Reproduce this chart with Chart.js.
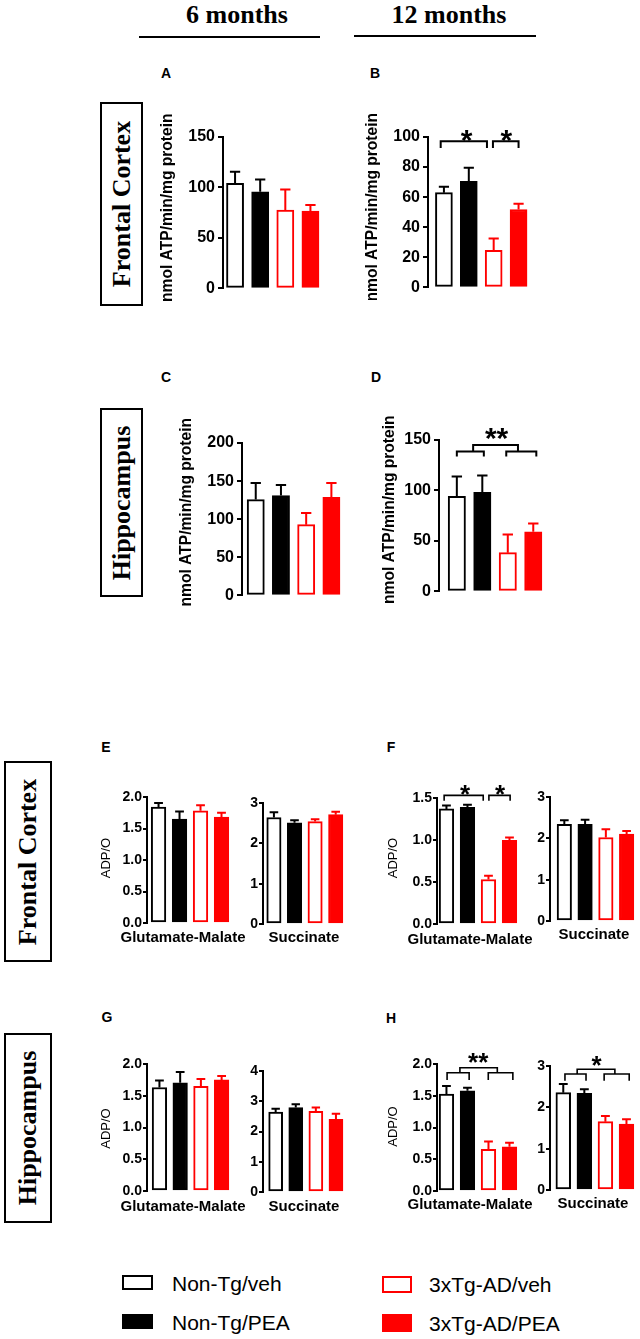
<!DOCTYPE html>
<html lang="en">
  <head>
    <meta charset="UTF-8" />
    <meta name="viewport" content="width=device-width, initial-scale=1.0" />
    <title>ATP synthesis and ADP/O ratio</title>
    <script src="https://cdn.jsdelivr.net/npm/chart.js"></script>
    <style>
      body {
        margin: 0;
        background: #fff;
        position: relative;
        width: 640px;
        height: 1339px;
        overflow: hidden;
        font-family: "Liberation Sans", Arial, sans-serif;
        color: #000;
      }
      .t {
        position: absolute;
        line-height: 1;
        white-space: nowrap;
        transform: translate(-50%, -50%);
      }
      .age {
        font-family: "Liberation Serif", "Times New Roman", serif;
        font-weight: bold;
        font-size: 26px;
      }
      .rule {
        position: absolute;
        height: 2px;
        background: #000;
      }
      .letter {
        font-weight: bold;
        font-size: 14px;
      }
      .region {
        position: absolute;
        border: 2px solid #000;
        box-sizing: border-box;
      }
      .region span {
        position: absolute;
        left: 50%;
        top: 50%;
        transform: translate(-50%, -50%) rotate(-90deg);
        font-family: "Liberation Serif", "Times New Roman", serif;
        font-weight: bold;
        font-size: 26px;
        line-height: 1;
        white-space: nowrap;
      }
      canvas {
        position: absolute;
      }
      .swatch {
        position: absolute;
        box-sizing: border-box;
      }
      .lg {
        position: absolute;
        font-size: 21px;
        line-height: 1;
        white-space: nowrap;
        transform: translateY(-50%);
      }
    </style>
  </head>
  <body>
    <div class="t age" style="left: 237px; top: 15px">6 months</div>
    <div class="rule" style="left: 139px; top: 36px; width: 181px"></div>
    <div class="t age" style="left: 449px; top: 15px">12 months</div>
    <div class="rule" style="left: 354px; top: 35px; width: 182px"></div>

    <div class="region" style="left: 100px; top: 102px; width: 43px; height: 204px"><span>Frontal Cortex</span></div>
    <div class="region" style="left: 100px; top: 408px; width: 43px; height: 189px"><span>Hippocampus</span></div>
    <div class="region" style="left: 4px; top: 761px; width: 48px; height: 201px"><span>Frontal Cortex</span></div>
    <div class="region" style="left: 4px; top: 1033px; width: 48px; height: 190px"><span>Hippocampus</span></div>

    <div class="t letter" style="left: 166px; top: 73px">A</div>
    <div class="t letter" style="left: 375px; top: 73px">B</div>
    <div class="t letter" style="left: 166px; top: 377px">C</div>
    <div class="t letter" style="left: 376px; top: 377px">D</div>
    <div class="t letter" style="left: 106px; top: 747px">E</div>
    <div class="t letter" style="left: 391px; top: 747px">F</div>
    <div class="t letter" style="left: 107px; top: 1017px">G</div>
    <div class="t letter" style="left: 391px; top: 1018px">H</div>

    <script>
      const groups = ["Non-Tg/veh", "Non-Tg/PEA", "3xTg-AD/veh", "3xTg-AD/PEA"];
      const fills = ["#ffffff", "#000000", "#ffffff", "#ff0000"];
      const edges = ["#000000", "#000000", "#ff0000", "#ff0000"];

      // ATP synthesis, nmol ATP/min/mg protein (mean and SEM)
      const atpCortex6 = [104, 95.7, 77.7, 76.7];
      const atpCortex6Sem = [11.5, 12.3, 20.3, 5.9];
      const atpCortex12 = [63, 70.6, 24.7, 51.8];
      const atpCortex12Sem = [3.9, 8.9, 7.8, 3.8];
      const atpHippo6 = [125.7, 131, 92.8, 128.7];
      const atpHippo6Sem = [21.9, 14, 15.4, 18.9];
      const atpHippo12 = [94.2, 98.1, 38.4, 59.1];
      const atpHippo12Sem = [19.7, 16.8, 18, 8.2];

      // ADP/O ratio, glutamate-malate and succinate (mean and SEM)
      const adpoCortex6GM = [1.84, 1.65, 1.78, 1.68];
      const adpoCortex6GMSem = [0.065, 0.12, 0.09, 0.07];
      const adpoCortex6Suc = [2.64, 2.51, 2.54, 2.71];
      const adpoCortex6SucSem = [0.13, 0.06, 0.06, 0.07];
      const adpoCortex12GM = [1.37, 1.39, 0.53, 0.995];
      const adpoCortex12GMSem = [0.04, 0.03, 0.045, 0.035];
      const adpoCortex12Suc = [2.34, 2.34, 2.02, 2.1];
      const adpoCortex12SucSem = [0.1, 0.11, 0.2, 0.08];
      const adpoHippo6GM = [1.63, 1.705, 1.65, 1.75];
      const adpoHippo6GMSem = [0.11, 0.17, 0.115, 0.06];
      const adpoHippo6Suc = [2.645, 2.79, 2.67, 2.4];
      const adpoHippo6SucSem = [0.11, 0.11, 0.12, 0.19];
      const adpoHippo12GM = [1.527, 1.579, 0.658, 0.695];
      const adpoHippo12GMSem = [0.126, 0.047, 0.122, 0.063];
      const adpoHippo12Suc = [2.355, 2.34, 1.653, 1.597];
      const adpoHippo12SucSem = [0.21, 0.096, 0.137, 0.113];

      // y tick labels
      const ticks150 = ["0", "50", "100", "150"];
      const ticks100 = ["0", "20", "40", "60", "80", "100"];
      const ticks200 = ["0", "50", "100", "150", "200"];
      const ticksRatio2 = ["0.0", "0.5", "1.0", "1.5", "2.0"];
      const ticksRatio15 = ["0.0", "0.5", "1.0", "1.5"];
      const ticksSuc3 = ["0", "1", "2", "3"];
      const ticksSuc4 = ["0", "1", "2", "3", "4"];

      // significance brackets (x in bar index, y in axis units)
      const sigB = [
        { from: -0.13, to: 1.73, y: 97.1, legTo: 92.7 },
        { from: 1.97, to: 3.0, y: 97.1, legTo: 92.7 },
      ];
      const starsB = [
        { text: "*", x: 0.91, y: 102.8 },
        { text: "*", x: 2.51, y: 102.8 },
      ];
      const sigD = [
        { from: 0, to: 1.06, y: 138.5, legTo: 133.6 },
        { from: 1.94, to: 3.12, y: 138.5, legTo: 133.6 },
        { from: 0.64, to: 2.4, y: 145.1, legTo: 138.5 },
      ];
      const starsD = [{ text: "**", x: 1.56, y: 158.3 }];
      const sigF = [
        { from: -0.11, to: 1.75, y: 1.531, legTo: 1.468 },
        { from: 2.02, to: 3.03, y: 1.531, legTo: 1.468 },
      ];
      const starsF = [
        { text: "*", x: 0.88, y: 1.619 },
        { text: "*", x: 2.55, y: 1.619 },
      ];
      const sigH = [
        { from: 0.03, to: 1.08, y: 1.863, legTo: 1.747 },
        { from: 1.99, to: 3.16, y: 1.863, legTo: 1.747 },
        { from: 0.64, to: 2.42, y: 1.942, legTo: 1.863 },
      ];
      const starsH = [{ text: "**", x: 1.51, y: 2.115 }];
      const sigHSuc = [
        { from: 0.08, to: 1.08, y: 2.806, legTo: 2.645 },
        { from: 1.94, to: 3.13, y: 2.806, legTo: 2.645 },
        { from: 0.66, to: 2.45, y: 2.92, legTo: 2.806 },
      ];
      const starsHSuc = [{ text: "*", x: 1.58, y: 3.162 }];

      Chart.defaults.font.family = '"Liberation Sans", Arial, sans-serif';
      Chart.defaults.color = "#000";

      // error bars, brackets, stars and axis titles
      const extras = {
        id: "extras",
        afterDatasetsDraw(chart, args, o) {
          const ctx = chart.ctx;
          const a = chart.chartArea;
          const xs = chart.scales.x;
          const ys = chart.scales.y;
          const bars = chart.getDatasetMeta(0).data;
          ctx.save();
          bars.forEach((bar, i) => {
            const top = ys.getPixelForValue(o.means[i] + o.sem[i]);
            const cap = bar.width * 0.3;
            ctx.strokeStyle = edges[i];
            ctx.lineWidth = 2;
            ctx.beginPath();
            ctx.moveTo(bar.x, bar.y);
            ctx.lineTo(bar.x, top);
            ctx.moveTo(bar.x - cap, top);
            ctx.lineTo(bar.x + cap, top);
            ctx.stroke();
          });

          ctx.strokeStyle = "#000";
          ctx.lineWidth = o.bracketWidth;
          (o.brackets || []).forEach((b) => {
            const x1 = xs.getPixelForValue(b.from);
            const x2 = xs.getPixelForValue(b.to);
            const y = ys.getPixelForValue(b.y);
            const yl = ys.getPixelForValue(b.legTo);
            ctx.beginPath();
            ctx.moveTo(x1, yl);
            ctx.lineTo(x1, y);
            ctx.lineTo(x2, y);
            ctx.lineTo(x2, yl);
            ctx.stroke();
          });

          ctx.fillStyle = "#000";
          ctx.textAlign = "center";
          ctx.textBaseline = "alphabetic";
          ctx.font = "bold " + o.starSize + 'px "Liberation Sans", Arial, sans-serif';
          (o.stars || []).forEach((s) => {
            ctx.fillText(s.text, xs.getPixelForValue(s.x), ys.getPixelForValue(s.y) + 0.56 * o.starSize);
          });

          ctx.textBaseline = "middle";
          if (o.yTitle) {
            ctx.save();
            ctx.translate(a.left - o.yTitle.dx, (a.top + a.bottom) / 2 + o.yTitle.dy);
            ctx.rotate(-Math.PI / 2);
            ctx.font = o.yTitle.font;
            ctx.fillText(o.yTitle.text, 0, 0);
            ctx.restore();
          }
          if (o.xTitle) {
            ctx.font = 'bold 15px "Liberation Sans", Arial, sans-serif';
            ctx.fillText(o.xTitle.text, a.left + o.xTitle.dx, a.bottom + o.xTitle.dy);
          }
          ctx.restore();
        },
      };

      const atpTitle = { text: "nmol ATP/min/mg protein", font: 'bold 15.6px "Liberation Sans", Arial, sans-serif' };
      const adpoTitle = { text: "ADP/O", font: '13px "Liberation Sans", Arial, sans-serif' };

      function addPanel(L, d) {
        const big = L.big;
        const yw = big ? 72 : 58;
        const padTop = big ? 30 : 24;
        const padBottom = big ? 12 : 30;
        const padRight = big ? 6 : 24;
        const plotW = Math.round((3.5 - L.xmin) * L.step);
        const cv = document.createElement("canvas");
        cv.width = yw + plotW + padRight;
        cv.height = padTop + (L.y0 - L.yTop) + padBottom;
        cv.style.left = L.axis - yw + "px";
        cv.style.top = L.yTop - padTop + "px";
        document.body.appendChild(cv);

        new Chart(cv, {
          type: "bar",
          data: {
            datasets: [
              {
                label: groups.join(", "),
                data: d.means.map((v, i) => ({ x: i, y: v })),
                backgroundColor: fills,
                borderColor: edges,
                borderWidth: 2,
                borderSkipped: false,
                barThickness: L.step * (big ? 0.68 : 0.7),
              },
            ],
          },
          options: {
            responsive: false,
            animation: false,
            events: [],
            layout: { padding: { top: padTop, right: padRight, bottom: padBottom, left: 0 } },
            plugins: {
              legend: { display: false },
              tooltip: { enabled: false },
              extras: {
                means: d.means,
                sem: d.sem,
                brackets: d.brackets,
                stars: d.stars,
                starSize: big ? 30 : 26,
                bracketWidth: big ? 2 : 1.6,
                yTitle: L.yTitle,
                xTitle: L.xTitle,
              },
            },
            scales: {
              x: { type: "linear", display: false, offset: false, min: L.xmin, max: 3.5 },
              y: {
                min: 0,
                max: Number(d.ticks[d.ticks.length - 1]),
                afterBuildTicks: (s) => {
                  s.ticks = d.ticks.map((t) => ({ value: Number(t) }));
                },
                afterFit: (s) => {
                  s.width = yw;
                },
                ticks: {
                  autoSkip: false,
                  padding: big ? 3 : 1,
                  font: { size: big ? 16 : 14, weight: "bold" },
                  color: "#000",
                  callback: (v, i) => d.ticks[i],
                },
                grid: { drawOnChartArea: false, drawTicks: true, tickLength: big ? 5 : 4, color: "#000", lineWidth: 2 },
                border: { display: true, color: "#000", width: 2 },
              },
            },
          },
          plugins: [extras],
        });
      }

      // ATP synthesis panels A-D
      addPanel({ big: true, axis: 223, yTop: 137, y0: 289, step: 25.2, xmin: -0.48, yTitle: { ...atpTitle, dx: 55, dy: -5 } },
        { means: atpCortex6, sem: atpCortex6Sem, ticks: ticks150 });
      addPanel({ big: true, axis: 428, yTop: 137, y0: 288, step: 25, xmin: -0.64, yTitle: { ...atpTitle, dx: 55, dy: -5 } },
        { means: atpCortex12, sem: atpCortex12Sem, ticks: ticks100, brackets: sigB, stars: starsB });
      addPanel({ big: true, axis: 242, yTop: 443, y0: 596, step: 25.3, xmin: -0.545, yTitle: { ...atpTitle, dx: 55, dy: -7 } },
        { means: atpHippo6, sem: atpHippo6Sem, ticks: ticks200 });
      addPanel({ big: true, axis: 439, yTop: 440, y0: 592, step: 25.5, xmin: -0.7, yTitle: { ...atpTitle, dx: 49, dy: -6 } },
        { means: atpHippo12, sem: atpHippo12Sem, ticks: ticks150, brackets: sigD, stars: starsD });

      // ADP/O panels E-H
      addPanel({ axis: 147, yTop: 797, y0: 923, step: 20.9, xmin: -0.55, yTitle: { ...adpoTitle, dx: 41, dy: -2 }, xTitle: { text: "Glutamate-Malate", dx: 36, dy: 15 } },
        { means: adpoCortex6GM, sem: adpoCortex6GMSem, ticks: ticksRatio2 });
      addPanel({ axis: 263, yTop: 803, y0: 924, step: 20.5, xmin: -0.53, xTitle: { text: "Succinate", dx: 41, dy: 14 } },
        { means: adpoCortex6Suc, sem: adpoCortex6SucSem, ticks: ticksSuc3 });
      addPanel({ axis: 437, yTop: 798, y0: 924, step: 20.9, xmin: -0.45, yTitle: { ...adpoTitle, dx: 44, dy: -3 }, xTitle: { text: "Glutamate-Malate", dx: 33, dy: 16 } },
        { means: adpoCortex12GM, sem: adpoCortex12GMSem, ticks: ticksRatio15, brackets: sigF, stars: starsF });
      addPanel({ axis: 550, yTop: 797, y0: 921, step: 20.67, xmin: -0.69, xTitle: { text: "Succinate", dx: 44, dy: 14 } },
        { means: adpoCortex12Suc, sem: adpoCortex12SucSem, ticks: ticksSuc3 });
      addPanel({ axis: 147, yTop: 1064, y0: 1191, step: 20.83, xmin: -0.6, yTitle: { ...adpoTitle, dx: 41, dy: 1 }, xTitle: { text: "Glutamate-Malate", dx: 36, dy: 16 } },
        { means: adpoHippo6GM, sem: adpoHippo6GMSem, ticks: ticksRatio2 });
      addPanel({ axis: 263, yTop: 1071, y0: 1192, step: 20, xmin: -0.63, xTitle: { text: "Succinate", dx: 41, dy: 15 } },
        { means: adpoHippo6Suc, sem: adpoHippo6SucSem, ticks: ticksSuc4 });
      addPanel({ axis: 437, yTop: 1064, y0: 1191, step: 20.9, xmin: -0.45, yTitle: { ...adpoTitle, dx: 44, dy: -1 }, xTitle: { text: "Glutamate-Malate", dx: 33, dy: 14 } },
        { means: adpoHippo12GM, sem: adpoHippo12GMSem, ticks: ticksRatio2, brackets: sigH, stars: starsH });
      addPanel({ axis: 550, yTop: 1066, y0: 1190, step: 21.1, xmin: -0.63, xTitle: { text: "Succinate", dx: 43, dy: 14 } },
        { means: adpoHippo12Suc, sem: adpoHippo12SucSem, ticks: ticksSuc3, brackets: sigHSuc, stars: starsHSuc });

      // legend
      const legendSpots = [
        { left: 122, top: 1275, w: 31, h: 15, tx: 172, ty: 1283 },
        { left: 122, top: 1314, w: 31, h: 15, tx: 172, ty: 1322 },
        { left: 382, top: 1276, w: 30, h: 17, tx: 429, ty: 1284 },
        { left: 382, top: 1314, w: 30, h: 18, tx: 429, ty: 1323 },
      ];
      groups.forEach((name, i) => {
        const p = legendSpots[i];
        const sw = document.createElement("div");
        sw.className = "swatch";
        sw.style.cssText = `left:${p.left}px;top:${p.top}px;width:${p.w}px;height:${p.h}px;background:${fills[i]};border:2px solid ${edges[i]};`;
        document.body.appendChild(sw);
        const tx = document.createElement("div");
        tx.className = "lg";
        tx.style.left = p.tx + "px";
        tx.style.top = p.ty + "px";
        tx.textContent = name;
        document.body.appendChild(tx);
      });
    </script>
  </body>
</html>
